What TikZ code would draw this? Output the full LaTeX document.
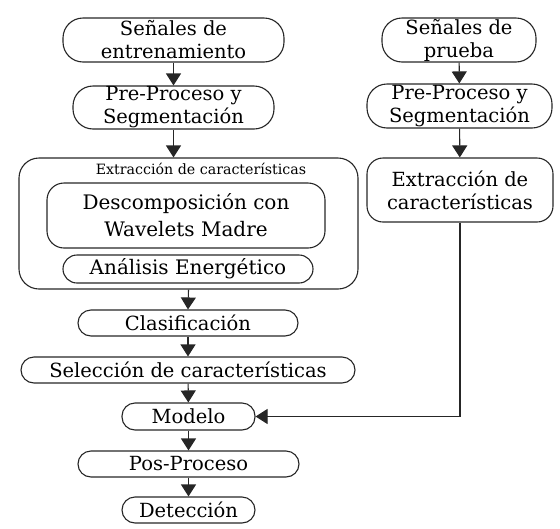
\documentclass[tikz,border=0pt]{standalone}
\usepackage{fontspec}
\setmainfont{DejaVu Serif}
\usetikzlibrary{arrows.meta,calc}
\begin{document}
\begin{tikzpicture}[x=1pt,y=-1pt,
  box/.style={draw=black!85, line width=1.1pt, align=center, inner sep=0pt, text=black, font=\fontsize{19.5}{23}\selectfont},
  arr/.style={draw=black!85, -{Triangle[width=15pt,length=12pt]}, line width=1.1pt}]
\useasboundingbox (0,0) rectangle (560,528);
% left column
\node[box, minimum width=221pt, minimum height=44pt, rounded corners=20pt] (s1) at (173.5,40) {Señales de\\entrenamiento};
\node[box, minimum width=201pt, minimum height=43pt, rounded corners=20pt] (p1) at (173.5,107.5) {Pre-Proceso y\\Segmentación};
\node[box, minimum width=339pt, minimum height=131pt, rounded corners=20pt] (outer) at (188.5,223.5) {};
\node[font=\fontsize{14.2}{16}\selectfont, text=black, inner sep=0pt] (title) at (201,169) {Extracción de características};
\node[box, minimum width=278pt, minimum height=65pt, rounded corners=17pt, font=\fontsize{20}{27}\selectfont] (desc) at (186,215.5) {Descomposición con\\Wavelets Madre};
\node[box, minimum width=250pt, minimum height=28pt, rounded corners=14pt, font=\fontsize{20}{23}\selectfont] (ener) at (188,269) {Análisis Energético};
\node[box, minimum width=220pt, minimum height=26pt, rounded corners=13pt] (clas) at (188,323) {Clasificación};
\node[box, minimum width=334pt, minimum height=26pt, rounded corners=13pt] (sel) at (188,370) {Selección de características};
\node[box, minimum width=133pt, minimum height=27pt, rounded corners=13pt] (mod) at (188.5,416.5) {Modelo};
\node[box, minimum width=221pt, minimum height=26pt, rounded corners=13pt] (pos) at (188.5,464) {Pos-Proceso};
\node[box, minimum width=133pt, minimum height=26pt, rounded corners=13pt] (det) at (188.5,510) {Detección};
% right column
\node[box, minimum width=154pt, minimum height=44pt, rounded corners=20pt] (s2) at (459,40) {Señales de\\prueba};
\node[box, minimum width=185pt, minimum height=44pt, rounded corners=20pt] (p2) at (459.5,106) {Pre-Proceso y\\Segmentación};
\node[box, minimum width=186pt, minimum height=64pt, rounded corners=16pt] (ext2) at (460,190) {Extracción de\\características};
% connectors
\draw[arr] (s1) -- (p1);
\draw[arr] (p1.south) -- (p1.south |- outer.north);
\draw[arr] (outer.south) -- (clas.north);
\draw[arr] (clas) -- (sel);
\draw[arr] (sel) -- (mod);
\draw[arr] (mod) -- (pos);
\draw[arr] (pos) -- (det);
\draw[arr] (s2) -- (p2);
\draw[arr] (p2) -- (ext2);
\draw[arr] (ext2.south) |- (mod.east);
\end{tikzpicture}
\end{document}
